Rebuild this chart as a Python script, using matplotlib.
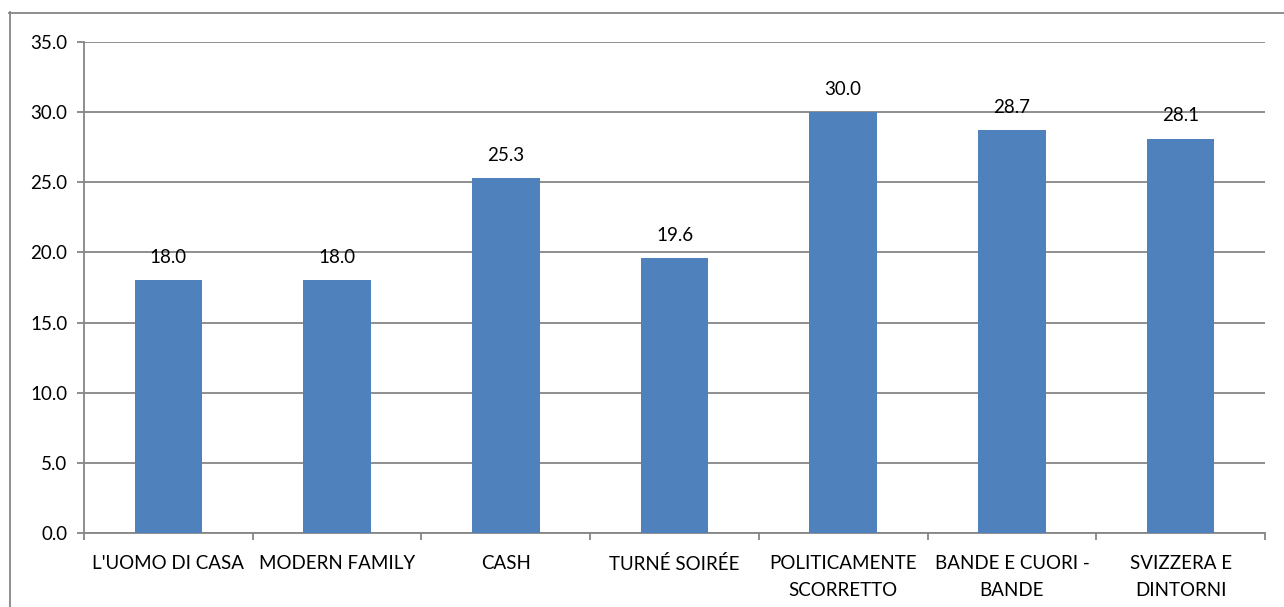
import matplotlib
matplotlib.use("Agg")
import matplotlib.pyplot as plt
from matplotlib.lines import Line2D
import numpy as np

categories = ["L'UOMO DI CASA", "MODERN FAMILY", "CASH", "TURNÉ SOIRÉE",
              "POLITICAMENTE\nSCORRETTO", "BANDE E CUORI -\nBANDE", "SVIZZERA E\nDINTORNI"]
values = [18.0, 18.0, 25.3, 19.6, 30.0, 28.7, 28.1]
yticks = [0, 5, 10, 15, 20, 25, 30, 35]

plt.rcParams['font.family'] = ['Lato', 'DejaVu Sans']

W, H = 1284, 607
fig = plt.figure(figsize=(W/100, H/100), dpi=100)
ax = fig.add_axes([84/W, 1-533/H, (1265-84)/W, (533-42)/H])

grid_c = '#868686'
bar_c = '#4F81BD'
fs = 13.5
x = np.arange(len(categories))
bars = ax.bar(x, values, width=0.4, color=bar_c, zorder=3)

ax.set_xlim(-0.5, len(categories)-0.5)
ax.set_ylim(0, 35)
ax.set_yticks(yticks)
ax.set_yticklabels([f"{v:.1f}" for v in yticks], fontsize=fs)
ax.yaxis.grid(True, color=grid_c, linewidth=1.3, zorder=0)
ax.set_axisbelow(True)

ax.set_xticks(np.arange(-0.5, len(categories), 1.0))
ax.set_xticklabels([])
ax.set_xticks(x, minor=True)
ax.set_xticklabels(categories, minor=True, fontsize=fs, linespacing=1.75)
ax.tick_params(axis='x', which='major', length=5, width=1.3, color=grid_c, direction='out')
ax.tick_params(axis='x', which='minor', length=0, pad=15.5)
ax.tick_params(axis='y', length=5, width=1.3, color=grid_c, direction='out', pad=7)

for s in ['top', 'right']:
    ax.spines[s].set_visible(False)
for s in ['left', 'bottom']:
    ax.spines[s].set_color(grid_c)
    ax.spines[s].set_linewidth(1.3)

for xi, v in zip(x, values):
    ax.annotate(f"{v:.1f}", (xi, v), xytext=(0, 23), textcoords='offset pixels',
                ha='center', va='center', fontsize=fs)

# outer chart border (left and top visible)
fig.add_artist(Line2D([9.5/W, 9.5/W], [0, 1-12/H], transform=fig.transFigure, color=grid_c, lw=1.3))
fig.add_artist(Line2D([9/W, 1], [1-12.5/H, 1-12.5/H], transform=fig.transFigure, color=grid_c, lw=1.3))

fig.savefig("out.png", dpi=100, facecolor='white')
